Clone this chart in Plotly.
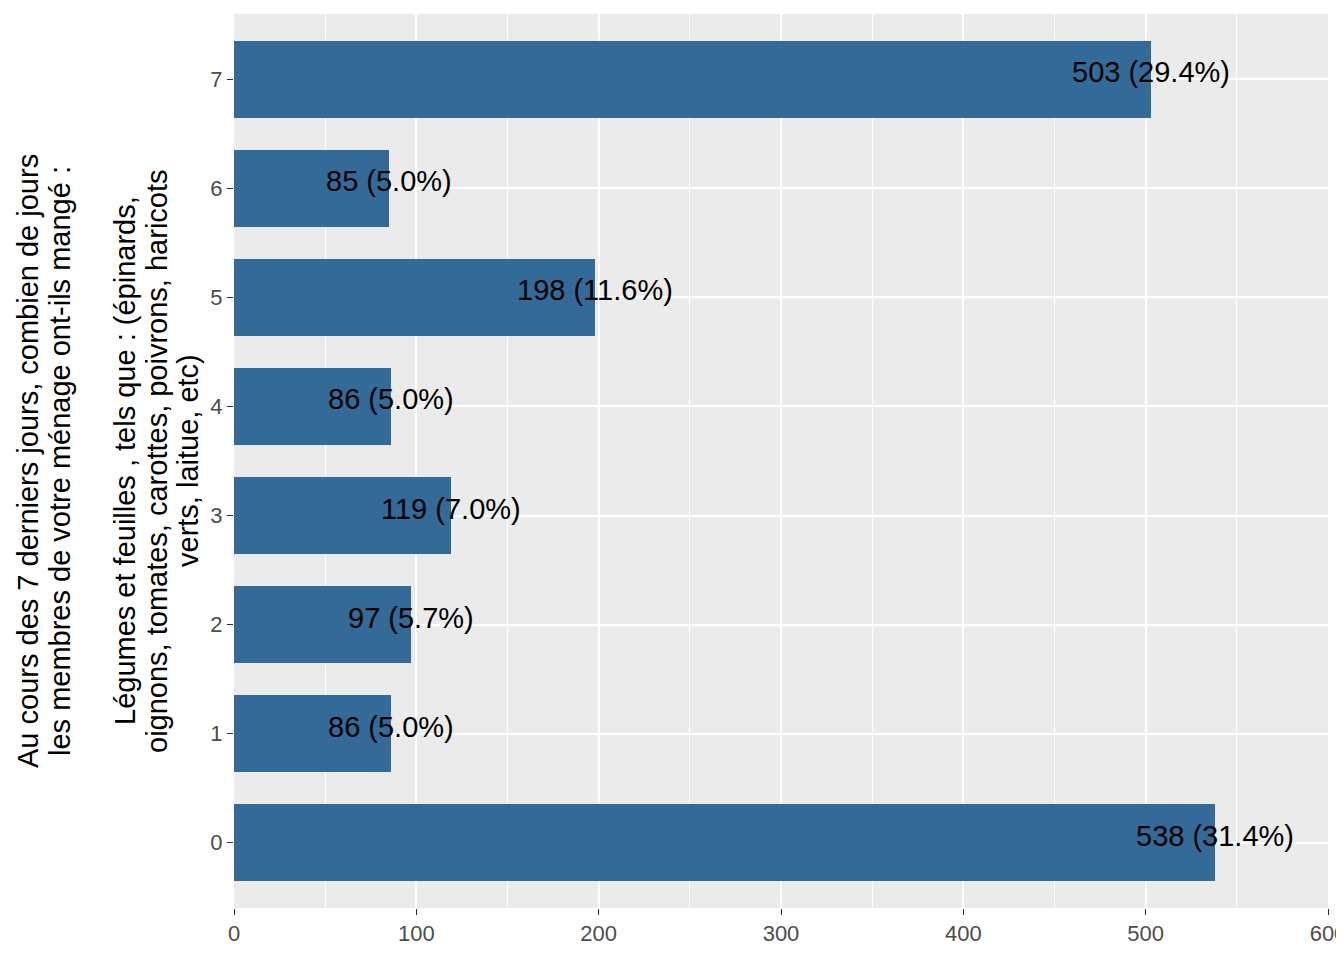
import plotly.graph_objects as go

categories = [0, 1, 2, 3, 4, 5, 6, 7]
counts = [538, 86, 97, 119, 86, 198, 85, 503]
percents = ["31.4%", "5.0%", "5.7%", "7.0%", "5.0%", "11.6%", "5.0%", "29.4%"]
x_ticks = [0, 100, 200, 300, 400, 500, 600]
title_lines = [
    "Au cours des 7 derniers jours, combien de jours",
    "les membres de votre ménage ont-ils mangé :",
    "",
    "Légumes et feuilles , tels que : (épinards,",
    "oignons, tomates, carottes, poivrons, haricots",
    "verts, laitue, etc)",
]

labels = [f"{c} ({p})" for c, p in zip(counts, percents)]
FONT = "Liberation Sans, Arial, sans-serif"

fig = go.Figure()
fig.add_trace(go.Bar(
    x=counts, y=categories, orientation="h", width=0.7,
    marker=dict(color="#336A98", line=dict(width=0)),
    hoverinfo="skip", showlegend=False,
))

# value labels, centred on the bar end, slightly above the bar centre
for c, cat, lab in zip(counts, categories, labels):
    fig.add_annotation(
        x=c, y=cat, xref="x", yref="y", text=lab, showarrow=False,
        xanchor="center", yanchor="middle", yshift=7,
        font=dict(family=FONT, size=29, color="black"),
    )

# page body has an 8px margin; compensate so the plot panel lands where intended
OFF = 8
W, H = 1344, 960
PL, PR, PT, PB = 234, 1328, 14, 908  # target panel edges in the screenshot
L = PL - OFF
T = PT - OFF
R = W + OFF - PR
B = H + OFF - PB

fig.update_layout(
    width=W, height=H,
    margin=dict(l=L, r=R, t=T, b=B, autoexpand=False),
    paper_bgcolor="white", plot_bgcolor="#EBEBEB",
    font=dict(family=FONT),
    bargap=0,
    xaxis=dict(
        range=[0, 600], tickvals=x_ticks, showgrid=True, gridcolor="white", gridwidth=1.5,
        minor=dict(dtick=50, tick0=0, showgrid=True, gridcolor="white", gridwidth=0.7),
        zeroline=False, ticks="outside", ticklen=6, tickwidth=1.4, tickcolor="#333333",
        tickfont=dict(family=FONT, size=22, color="#4D4D4D"), showline=False,
        ticklabeloverflow="allow", automargin=False,
    ),
    yaxis=dict(
        range=[-0.6, 7.6], tickvals=categories, ticktext=[str(c) for c in categories],
        showgrid=True, gridcolor="white", gridwidth=1.5, zeroline=False,
        ticks="outside", ticklen=6, tickwidth=1.4, tickcolor="#333333",
        tickfont=dict(family=FONT, size=22, color="#4D4D4D"), showline=False,
        automargin=False,
    ),
)

# y-axis title lines (rotated), placed line by line at screenshot x positions
line_x = [28, 60, 92, 125, 157, 188]
for txt, px in zip(title_lines, line_x):
    if not txt:
        continue
    fig.add_annotation(
        text=txt, textangle=-90, xref="paper", yref="paper",
        x=0, xshift=px - PL, y=0.5, xanchor="center", yanchor="middle",
        showarrow=False, font=dict(family=FONT, size=29, color="black"),
    )

fig.write_html("out.html")
